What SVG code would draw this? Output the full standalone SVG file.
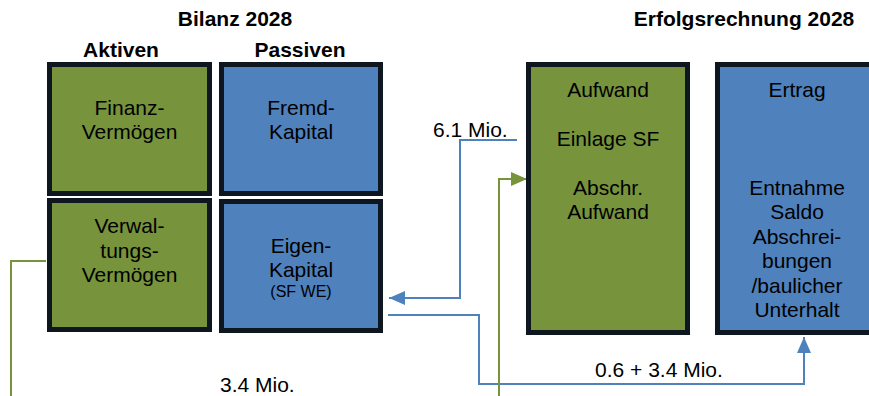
<svg xmlns="http://www.w3.org/2000/svg" width="869" height="396" viewBox="0 0 869 396">
<defs>
<style>
text{font-family:"Liberation Sans",Arial,sans-serif;fill:#000;text-anchor:middle}
.t{font-size:21px}
.h{font-size:21px;font-weight:bold}
.s{font-size:16px}
.lbl{font-size:21px;text-anchor:start}
.g{fill:#77933C;stroke:#0E1620;stroke-width:5}
.b{fill:#4F81BD;stroke:#0E1620;stroke-width:5}
.cb{fill:none;stroke:#4F81BD;stroke-width:2}
.cg{fill:none;stroke:#77933C;stroke-width:2}
</style>
<marker id="ab" markerUnits="userSpaceOnUse" markerWidth="18" markerHeight="16" refX="16" refY="7" orient="auto"><path d="M0,0 L16,7 L0,14 Z" fill="#4F81BD"/></marker>
<marker id="ag" markerUnits="userSpaceOnUse" markerWidth="18" markerHeight="16" refX="16" refY="7" orient="auto"><path d="M0,0 L16,7 L0,14 Z" fill="#77933C"/></marker>
</defs>
<rect width="869" height="396" fill="#fff"/>
<g id="titles">
<text class="h" x="235" y="26">Bilanz 2028</text>
<text class="h" x="121" y="57">Aktiven</text>
<text class="h" x="300" y="57">Passiven</text>
<text class="h" x="744" y="26">Erfolgsrechnung 2028</text>
</g>
<g id="connectors">
<path class="cb" d="M517,140 H460 V298 H389" marker-end="url(#ab)"/>
<path class="cb" d="M388,315 H479 V384 H804 V337" marker-end="url(#ab)"/>
<path class="cg" d="M46,261 H11 V396"/>
<path class="cg" d="M499,396 V179 H527" marker-end="url(#ag)"/>
<text class="lbl" x="433" y="137">6.1 Mio.</text>
<text class="lbl" x="595" y="377">0.6 + 3.4 Mio.</text>
<text class="lbl" x="220" y="392">3.4 Mio.</text>
</g>
<g id="finanzvermoegen">
<rect class="g" x="49.5" y="64.5" width="160" height="129"/>
<text class="t" x="129.5" y="115">Finanz-</text>
<text class="t" x="129.5" y="139">Vermögen</text>
</g>
<g id="fremdkapital">
<rect class="b" x="221.5" y="64.5" width="159" height="129"/>
<text class="t" x="301" y="115">Fremd-</text>
<text class="t" x="301" y="139">Kapital</text>
</g>
<g id="verwaltungsvermoegen">
<rect class="g" x="49.5" y="200.5" width="160" height="129"/>
<text class="t" x="129.5" y="233">Verwal-</text>
<text class="t" x="129.5" y="258">tungs-</text>
<text class="t" x="129.5" y="282">Vermögen</text>
</g>
<g id="eigenkapital">
<rect class="b" x="221.5" y="201.5" width="159" height="129"/>
<text class="t" x="301" y="253">Eigen-</text>
<text class="t" x="301" y="277">Kapital</text>
<text class="s" x="301" y="297">(SF WE)</text>
</g>
<g id="aufwand">
<rect class="g" x="528.5" y="64.5" width="159" height="268"/>
<text class="t" x="608" y="97">Aufwand</text>
<text class="t" x="608" y="146">Einlage SF</text>
<text class="t" x="608" y="195">Abschr.</text>
<text class="t" x="608" y="219">Aufwand</text>
</g>
<g id="ertrag">
<rect class="b" x="717.5" y="64.5" width="159" height="268"/>
<text class="t" x="797" y="97">Ertrag</text>
<text class="t" x="797" y="195">Entnahme</text>
<text class="t" x="797" y="219">Saldo</text>
<text class="t" x="797" y="244">Abschrei-</text>
<text class="t" x="797" y="268">bungen</text>
<text class="t" x="797" y="293">/baulicher</text>
<text class="t" x="797" y="317">Unterhalt</text>
</g>
</svg>
